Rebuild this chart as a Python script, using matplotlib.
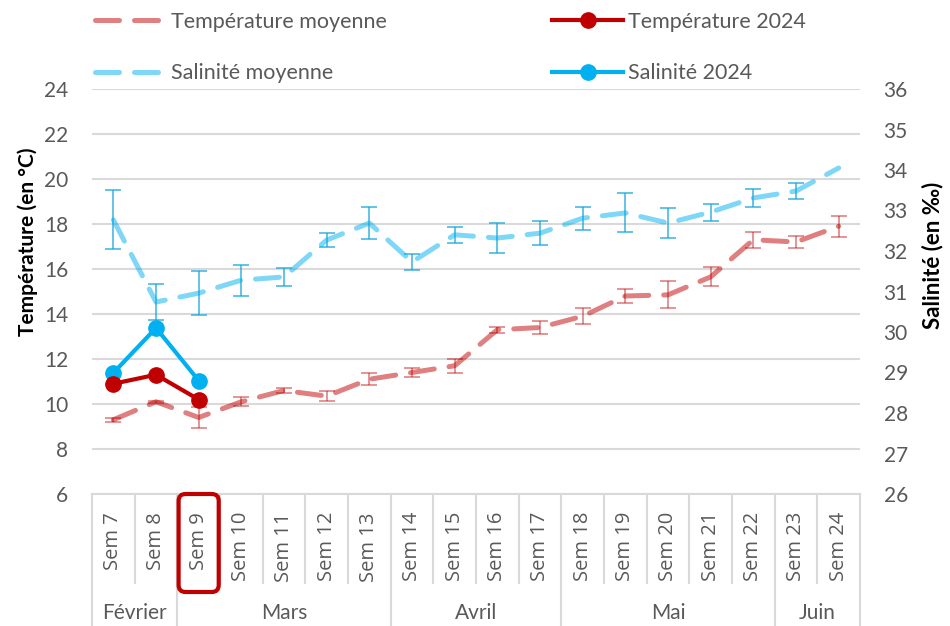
import numpy as np
import matplotlib
matplotlib.use("Agg")
import matplotlib.pyplot as plt
import matplotlib.transforms as mtransforms
from matplotlib.patches import FancyBboxPatch

plt.rcParams['font.family'] = ['Lato', 'DejaVu Sans']

# week categories and month groups
weeks = ["Sem %d" % w for w in range(7, 25)]
months = ["Février", "Mars", "Avril", "Mai", "Juin"]
month_sizes = [2, 5, 4, 5, 2]

# mean temperature (°C) with error bars
temp_mean = [9.3, 10.1, 9.4, 10.1, 10.6, 10.35, 11.1, 11.4, 11.7, 13.3,
             13.4, 13.9, 14.8, 14.85, 15.65, 17.3, 17.2, 17.9]
temp_err = [0.08, 0.05, 0.45, 0.2, 0.13, 0.22, 0.27, 0.2, 0.3, 0.13,
            0.27, 0.35, 0.3, 0.6, 0.42, 0.35, 0.25, 0.47]
# mean salinity (‰) with error bars
sal_mean = [32.77, 30.74, 30.96, 31.28, 31.36, 32.27, 32.69, 31.73, 32.4, 32.32,
            32.44, 32.81, 32.94, 32.69, 32.96, 33.31, 33.48, 34.05]
sal_err = [0.73, 0.45, 0.55, 0.38, 0.22, 0.18, 0.4, 0.2, 0.2, 0.37,
           0.3, 0.28, 0.48, 0.38, 0.21, 0.22, 0.2, 0.0]
# 2024 values (first weeks only)
temp_2024 = [10.9, 11.3, 10.2]
sal_2024 = [28.99, 30.1, 28.8]

RED = "#C00000"
BLUE = "#00B0F0"
GRID = "#D9D9D9"
TXT = "#595959"

fig = plt.figure(figsize=(9.5, 6.26), dpi=100)
ax = fig.add_axes([92 / 950, 1 - 494 / 626, 768 / 950, 405 / 626])
ax2 = ax.twinx()

x = np.arange(len(weeks))
xs = x[:len(temp_2024)]

dash = dict(linestyle=(0, (4.8, 3.0)), lw=3.6, dash_capstyle='round')

# temperature on left axis
ax.errorbar(x, temp_mean, yerr=temp_err, fmt='none', ecolor=RED, alpha=0.45,
            elinewidth=1.3, capsize=6, capthick=1.3, zorder=3)
ax.plot(x, temp_mean, color=RED, alpha=0.5, zorder=4, label="Température moyenne", **dash)

# salinity on right axis
serr = np.array(sal_err)
keep = serr > 0
ax2.errorbar(x[keep], np.array(sal_mean)[keep], yerr=serr[keep], fmt='none', ecolor="#1AA7DC",
             alpha=0.8, elinewidth=1.2, capsize=6, capthick=1.2, zorder=3)
ax2.plot(x, sal_mean, color=BLUE, alpha=0.5, zorder=4, label="Salinité moyenne", **dash)

ax2.plot(xs, sal_2024, color=BLUE, lw=3, marker='o', ms=11, zorder=6, label="Salinité 2024")
ax2.plot(xs, temp_2024, color=RED, lw=3, marker='o', ms=11, zorder=6, label="Température 2024",
         transform=ax.transData)

ax.set_xlim(-0.5, len(weeks) - 0.5)
ax.set_ylim(6, 24)
ax.set_yticks(np.arange(6, 25, 2))
ax2.set_ylim(26, 36)
ax2.set_yticks(np.arange(26, 37, 1))

ax.grid(axis='y', color=GRID, lw=1.5)
ax.set_axisbelow(True)
for a in (ax, ax2):
    for s in a.spines.values():
        s.set_visible(False)
    a.tick_params(axis='y', length=0, pad=17, labelsize=15, labelcolor=TXT)
ax.spines['bottom'].set_visible(True)
ax.spines['bottom'].set_color(GRID)
ax.spines['bottom'].set_linewidth(1.5)

ax.set_xticks(x)
ax.set_xticklabels(weeks, rotation=90, family=['Open Sans', 'DejaVu Sans'])
ax.tick_params(axis='x', length=0, pad=13, labelsize=14.5, labelcolor=TXT)

ax.set_ylabel("Température (en °C)", fontsize=15, fontweight='bold', color='black')
ax.yaxis.set_label_coords(-0.07, 0.622)
ax2.set_ylabel("Salinité (en ‰)", fontsize=16, fontweight='bold', color='black', rotation=90)
ax2.yaxis.set_label_coords(1.08, 0.59)

# category table below the axis
trans = mtransforms.blended_transform_factory(ax.transData, ax.transAxes)
week_low = -(583 - 494) / 405
month_low = -(626 - 494) / 405
bounds = np.cumsum([0] + month_sizes) - 0.5
for b in np.arange(-0.5, len(weeks)):
    low = month_low if b in bounds else week_low
    ax.plot([b, b], [0, low], color=GRID, lw=1.5, transform=trans, clip_on=False)
for i, m in enumerate(months):
    ax.text((bounds[i] + bounds[i + 1]) / 2, -(613 - 494) / 405, m, transform=trans,
            ha='center', va='center', fontsize=15, color=TXT)

# red box around Sem 9
p0 = ax.transData.transform((1.53, 0))
p1 = ax.transData.transform((2.47, 0))
y0 = 626 - 592
y1 = 626 - 494
box = FancyBboxPatch((p0[0], y0), p1[0] - p0[0], y1 - y0,
                     boxstyle="round,pad=0,rounding_size=7", fill=False,
                     edgecolor=RED, lw=3, transform=mtransforms.IdentityTransform(),
                     clip_on=False, zorder=10)
fig.patches.append(box)

h1, l1 = ax.get_legend_handles_labels()
h2, l2 = ax2.get_legend_handles_labels()
hd = dict(zip(l1 + l2, h1 + h2))
order = ["Température moyenne", "Salinité moyenne", "Température 2024", "Salinité 2024"]
leg = fig.legend([hd[k] for k in order], order, ncol=2, loc='upper left',
                 bbox_to_anchor=(76 / 950, 1.012), frameon=False, fontsize=15.5,
                 handlelength=3.3, columnspacing=7.7, labelspacing=1.45,
                 handletextpad=0.2, labelcolor=TXT)

fig.savefig("out.png", dpi=100)
